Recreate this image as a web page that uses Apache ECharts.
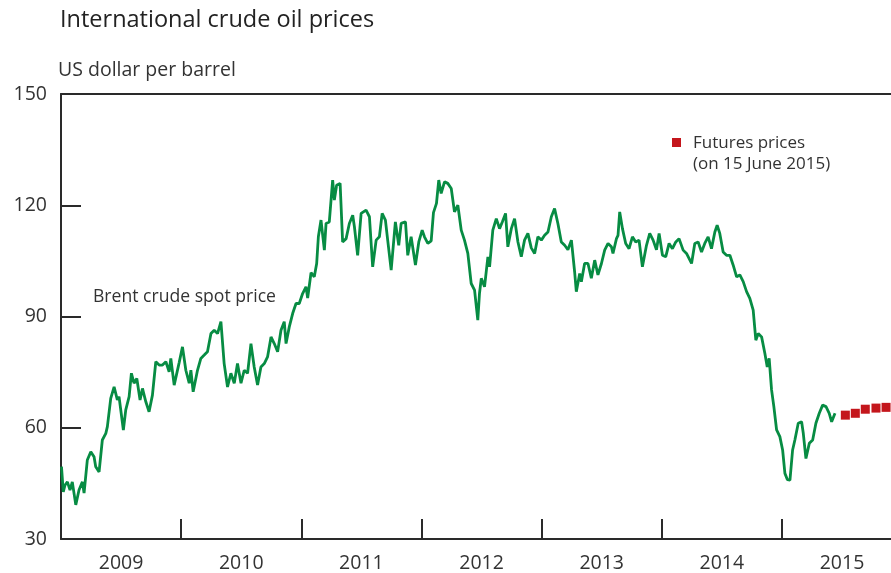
<!DOCTYPE html>
<html>
<head>
<meta charset="utf-8">
<title>International crude oil prices</title>
<script src="https://cdn.jsdelivr.net/npm/echarts@6/dist/echarts.min.js"></script>
<style>
  html, body { margin: 0; padding: 0; background: #fff; }
  #chart { width: 891px; height: 573px; }
</style>
</head>
<body>
<div id="chart"></div>
<script>
// Brent crude spot price, decimal years
const spotYears = [
  2009.004, 2009.011, 2009.019, 2009.033, 2009.053, 2009.075, 2009.094, 2009.123, 2009.150, 2009.178,
  2009.192, 2009.219, 2009.248, 2009.275, 2009.289, 2009.317, 2009.344, 2009.373, 2009.386, 2009.414,
  2009.442, 2009.469, 2009.483, 2009.519, 2009.539, 2009.567, 2009.586, 2009.608, 2009.631, 2009.658,
  2009.678, 2009.706, 2009.733, 2009.761, 2009.789, 2009.817, 2009.844, 2009.873, 2009.900, 2009.914,
  2009.942, 2009.983, 2010.011, 2010.039, 2010.067, 2010.081, 2010.100, 2010.136, 2010.164, 2010.192,
  2010.219, 2010.248, 2010.275, 2010.303, 2010.331, 2010.358, 2010.386, 2010.414, 2010.442, 2010.469,
  2010.498, 2010.525, 2010.553, 2010.581, 2010.608, 2010.636, 2010.664, 2010.692, 2010.719, 2010.748,
  2010.775, 2010.803, 2010.831, 2010.858, 2010.873, 2010.900, 2010.928, 2010.956, 2010.983, 2011.011,
  2011.039, 2011.053, 2011.081, 2011.108, 2011.128, 2011.142, 2011.164, 2011.192, 2011.206, 2011.233,
  2011.261, 2011.275, 2011.294, 2011.323, 2011.344, 2011.373, 2011.400, 2011.428, 2011.442, 2011.469,
  2011.498, 2011.539, 2011.567, 2011.594, 2011.623, 2011.650, 2011.673, 2011.700, 2011.719, 2011.748,
  2011.783, 2011.811, 2011.831, 2011.867, 2011.886, 2011.914, 2011.950, 2011.978, 2012.006, 2012.025,
  2012.053, 2012.081, 2012.100, 2012.125, 2012.144, 2012.164, 2012.192, 2012.219, 2012.248, 2012.275,
  2012.303, 2012.331, 2012.358, 2012.386, 2012.414, 2012.442, 2012.469, 2012.483, 2012.498, 2012.525,
  2012.553, 2012.567, 2012.594, 2012.623, 2012.650, 2012.673, 2012.700, 2012.719, 2012.748, 2012.775,
  2012.803, 2012.831, 2012.858, 2012.886, 2012.914, 2012.942, 2012.969, 2012.998, 2013.025, 2013.053,
  2013.081, 2013.108, 2013.136, 2013.164, 2013.192, 2013.219, 2013.248, 2013.275, 2013.289, 2013.317,
  2013.331, 2013.358, 2013.386, 2013.414, 2013.442, 2013.469, 2013.498, 2013.525, 2013.553, 2013.581,
  2013.594, 2013.623, 2013.636, 2013.650, 2013.673, 2013.700, 2013.728, 2013.756, 2013.783, 2013.811,
  2013.839, 2013.873, 2013.900, 2013.928, 2013.956, 2013.978, 2014.006, 2014.033, 2014.061, 2014.089,
  2014.117, 2014.144, 2014.178, 2014.206, 2014.248, 2014.275, 2014.303, 2014.331, 2014.358, 2014.386,
  2014.414, 2014.442, 2014.461, 2014.483, 2014.511, 2014.539, 2014.567, 2014.594, 2014.623, 2014.650,
  2014.678, 2014.706, 2014.733, 2014.761, 2014.783, 2014.803, 2014.831, 2014.858, 2014.878, 2014.894,
  2014.914, 2014.933, 2014.956, 2014.983, 2015.006, 2015.025, 2015.046, 2015.067, 2015.089, 2015.108,
  2015.136, 2015.164, 2015.178, 2015.200, 2015.228, 2015.256, 2015.283, 2015.311, 2015.339, 2015.367,
  2015.394, 2015.414, 2015.442
];
const spotPrices = [
  49.5, 49.1, 42.7, 44.5, 45.4, 43.2, 45.4, 39.2, 43.2, 45.4,
  42.4, 51.3, 53.5, 52.2, 49.5, 48.1, 56.7, 58.5, 60.3, 67.9,
  71.0, 67.5, 68.4, 59.4, 64.8, 68.4, 74.7, 72.0, 73.3, 67.5,
  70.6, 67.0, 64.3, 68.8, 77.8, 76.9, 76.9, 77.8, 75.1, 78.7,
  71.5, 77.5, 81.8, 75.5, 72.0, 75.5, 69.7, 75.5, 78.7, 79.6,
  80.5, 85.4, 86.3, 85.4, 88.6, 77.3, 71.0, 74.7, 72.0, 77.3,
  72.0, 75.5, 74.7, 82.7, 76.4, 71.5, 76.4, 77.3, 79.1, 84.5,
  82.7, 80.5, 86.3, 88.6, 82.7, 87.2, 90.8, 93.5, 93.5, 96.2,
  98.0, 95.0, 101.8, 100.7, 104.3, 111.5, 116.0, 107.9, 115.1, 115.5,
  126.8, 121.4, 125.4, 125.9, 110.1, 111.0, 115.1, 117.3, 114.2, 106.5,
  117.8, 118.7, 116.9, 103.4, 110.6, 111.5, 117.8, 116.0, 110.6, 102.5,
  115.5, 109.2, 115.1, 115.5, 106.5, 111.5, 103.9, 110.1, 113.3, 111.5,
  109.7, 110.4, 118.0, 120.5, 126.8, 123.2, 126.3, 125.9, 124.5, 118.2,
  120.0, 113.3, 110.6, 107.0, 98.9, 97.1, 89.0, 96.2, 100.3, 98.0,
  106.1, 103.4, 113.3, 116.4, 113.7, 115.5, 117.8, 108.8, 113.7, 116.4,
  110.1, 106.1, 110.6, 112.4, 108.5, 107.0, 111.5, 110.6, 111.9, 112.8,
  116.9, 119.1, 115.0, 110.1, 109.2, 108.0, 110.6, 102.0, 96.7, 101.6,
  99.4, 104.3, 104.3, 100.3, 105.2, 101.2, 104.3, 107.9, 109.7, 108.8,
  107.0, 111.0, 111.9, 118.2, 113.7, 109.7, 108.3, 111.5, 110.1, 110.6,
  103.4, 109.2, 112.4, 110.6, 108.0, 112.4, 106.5, 106.1, 109.7, 108.3,
  110.1, 111.0, 107.9, 107.0, 104.3, 109.7, 110.1, 107.4, 109.7, 111.5,
  108.3, 112.8, 114.6, 112.4, 107.4, 106.5, 106.5, 103.9, 100.7, 101.2,
  99.4, 96.7, 94.9, 91.7, 83.6, 85.4, 84.5, 80.1, 76.4, 78.7,
  70.2, 65.7, 59.4, 57.6, 54.0, 47.7, 46.0, 45.9, 54.0, 56.7,
  61.2, 61.6, 58.5, 51.7, 55.8, 56.7, 61.2, 63.9, 66.1, 65.7,
  63.9, 61.6, 63.9
];

// Futures prices (on 15 June 2015)
const futuresYears = [2015.528, 2015.611, 2015.694, 2015.783, 2015.867];
const futuresPrices = [63.4, 63.9, 65.0, 65.3, 65.5];

// axes
const yearTicks = [2010, 2011, 2012, 2013, 2014, 2015];
const yearLabels = [2009.5, 2010.5, 2011.5, 2012.5, 2013.5, 2014.5, 2015.5];
const xMin = 2009, xMax = 2015.908;
const yTicks = [30, 60, 90, 120, 150];

const FONT = '"Open Sans", "Liberation Sans", sans-serif';
const TEXT = '#333333';
const AXIS = '#2a2a2a';
const GREEN = '#078c43';
const RED = '#c4161c';

let ec = echarts.init(document.getElementById('chart'), null, { renderer: 'canvas' });

ec.setOption({
  animation: false,
  backgroundColor: '#ffffff',
  textStyle: { fontFamily: FONT, color: TEXT },
  grid: { left: 61, right: 0, top: 94, bottom: 34, containLabel: false },
  xAxis: [
    {
      type: 'value',
      min: xMin,
      max: xMax,
      axisLine: { show: true, lineStyle: { color: AXIS, width: 2 } },
      axisTick: {
        show: true,
        inside: true,
        length: 20,
        customValues: yearTicks,
        lineStyle: { color: AXIS, width: 2 }
      },
      axisLabel: {
        customValues: yearLabels,
        formatter: v => String(Math.floor(v)),
        color: TEXT,
        fontSize: 19.5,
        fontFamily: FONT,
        margin: 14
      },
      splitLine: { show: false }
    },
    {
      // top frame line
      type: 'value',
      position: 'top',
      min: xMin,
      max: xMax,
      axisLine: { show: true, onZero: false, lineStyle: { color: AXIS, width: 2 } },
      axisTick: { show: false },
      axisLabel: { show: false },
      splitLine: { show: false }
    }
  ],
  yAxis: {
    type: 'value',
    min: 30,
    max: 150,
    interval: 30,
    axisLine: { show: true, lineStyle: { color: AXIS, width: 2 } },
    axisTick: {
      show: true,
      inside: true,
      length: 20,
      customValues: yTicks,
      lineStyle: { color: AXIS, width: 2 }
    },
    axisLabel: { color: TEXT, fontSize: 19.5, fontFamily: FONT, margin: 14 },
    splitLine: { show: false }
  },
  graphic: [
    {
      type: 'text',
      left: 60,
      top: 8,
      style: { text: 'International crude oil prices', fill: '#222', font: '23.5px ' + FONT }
    },
    {
      type: 'text',
      left: 58,
      top: 60,
      style: { text: 'US dollar per barrel', fill: TEXT, font: '19.5px ' + FONT }
    },
    {
      type: 'text',
      left: 93,
      top: 288,
      style: { text: 'Brent crude spot price', fill: TEXT, font: '17.6px ' + FONT }
    },
    {
      type: 'rect',
      left: 672,
      top: 138,
      shape: { width: 9, height: 9 },
      style: { fill: RED }
    },
    {
      type: 'text',
      left: 693,
      top: 133,
      style: {
        text: 'Futures prices\n(on 15 June 2015)',
        fill: TEXT,
        font: '17px ' + FONT,
        lineHeight: 21
      }
    }
  ],
  series: [
    {
      name: 'Brent crude spot price',
      type: 'line',
      data: spotYears.map((x, i) => [x, spotPrices[i]]),
      showSymbol: false,
      lineStyle: { color: GREEN, width: 2.8 },
      itemStyle: { color: GREEN },
      z: 3
    },
    {
      name: 'Futures prices',
      type: 'scatter',
      data: futuresYears.map((x, i) => [x, futuresPrices[i]]),
      symbol: 'rect',
      symbolSize: 9,
      itemStyle: { color: RED, opacity: 1 },
      z: 4
    }
  ]
});
</script>
</body>
</html>
